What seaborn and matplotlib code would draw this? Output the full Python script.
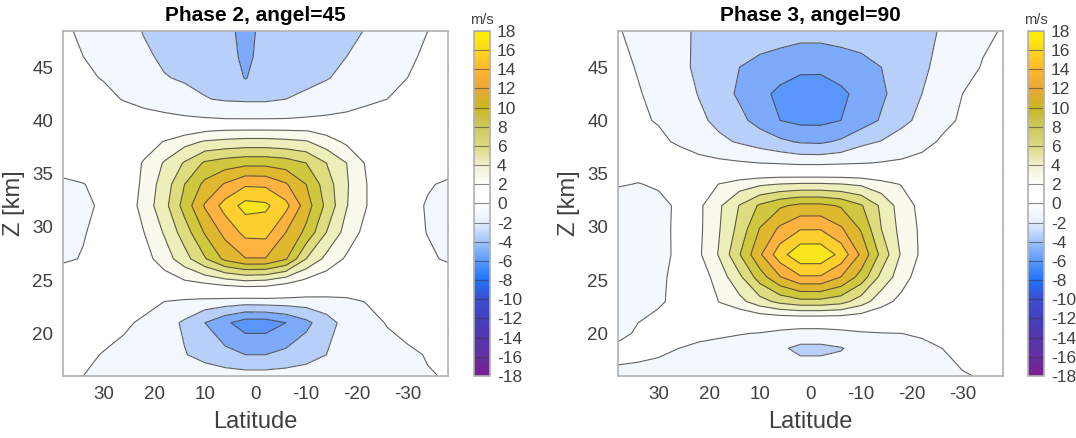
import numpy as np
import matplotlib
matplotlib.use('Agg')
import matplotlib.pyplot as plt
from matplotlib.cm import ScalarMappable
from matplotlib.colors import LinearSegmentedColormap, Normalize
import seaborn as sns

sns.set_style('white')
plt.rcParams['font.family'] = ['Liberation Sans', 'DejaVu Sans']
plt.rcParams['axes.unicode_minus'] = False

# latitude des colonnes
lat = [38, 34, 30, 26, 22, 18, 14, 10, 6, 2, -2, -6, -10, -14, -18, -22, -26, -30, -34, -38]

# altitudes des lignes, une liste par panneau
z_phase2 = [16, 18, 21, 23, 25, 27, 29.5, 32, 34, 36, 38, 39, 40, 42, 44, 46, 48.4]
z_phase3 = [16, 18.6, 20, 21, 23, 25.3, 27.4, 29.8, 32, 34, 36, 38, 40, 42.5, 45, 48.4]

# vitesse (m/s)
u_phase2 = [
    [-1.4, -2, -2.3, -2.5, -2.7, -2.8, -2.9, -3, -3.1, -3.2, -3.2, -3.1, -3, -2.9, -2.8, -2.6, -2.4, -2.2, -2.1, -1.9],
    [-1.2, -1.6, -2.1, -2.5, -2.9, -3.4, -3.9, -4.6, -5.4, -6, -6, -5.5, -4.8, -4, -3.4, -2.9, -2.6, -2.3, -1.9, -1.5],
    [-.4, -.8, -1.2, -1.7, -2.3, -3.2, -4.3, -6, -7.6, -9, -9, -8, -6.5, -4.8, -3.3, -2.6, -1.9, -1.4, -.9, -.5],
    [0, -.2, -.5, -.9, -1.4, -2, -2.4, -2.7, -2.9, -3.1, -3, -3, -3, -2.8, -2.5, -1.9, -1.3, -.8, -.5, -.2],
    [0, .1, .2, .4, .7, 1.1, 2, 2.8, 3.6, 4.2, 4, 3, 1.7, .9, .3, 0, -.2, -.2, -.1, -.1],
    [-2.5, -1.8, -1, -.2, 1.2, 3, 5.2, 7.8, 10.5, 11.9, 11.9, 10.2, 6, 3.4, 1.7, .5, -.3, -.9, -1.5, -2.4],
    [-3, -2.2, -1, .4, 2, 4.2, 7, 10.2, 12.6, 14.6, 14.7, 12, 9.5, 6, 3.2, 1.3, -.1, -1, -2.1, -3],
    [-2.8, -2.5, -1.6, .5, 2.8, 5.3, 8.8, 12.2, 14.8, 16.7, 16.4, 14.6, 11, 7.5, 4.1, 2, .3, -.8, -2.3, -2.9],
    [-2.7, -2.1, -1.1, 0, 2.6, 4.9, 8, 10.5, 12.2, 13.7, 13.6, 12.2, 10, 7, 4.2, 2, .2, -.9, -1.7, -2.5],
    [-.4, -.3, -.1, .6, 2.2, 4.2, 6.2, 8.3, 9, 9.4, 9.4, 9, 8, 6, 4, 1.7, .4, -.1, -.3, -.4],
    [-.1, -.1, 0, .3, 1, 2.1, 3.3, 4.2, 4.5, 4.7, 4.7, 4.5, 4.2, 2.9, 1.6, .6, .2, 0, -.1, -.1],
    [-.2, -.2, -.1, 0, .2, .6, 1.2, 1.9, 2.3, 2.4, 2.4, 2.3, 2.1, 1.4, .7, .2, 0, -.1, -.2, -.2],
    [-.3, -.5, -.7, -.9, -1.2, -1.4, -1.6, -1.7, -1.8, -1.8, -1.8, -1.8, -1.7, -1.6, -1.4, -1.1, -.8, -.6, -.4, -.3],
    [-.9, -1.1, -1.5, -2.1, -2.6, -3, -3.4, -3.9, -4.2, -4.3, -4.3, -4, -3.6, -3.2, -2.9, -2.4, -2, -1.6, -1.2, -.9],
    [-1.4, -1.7, -2.1, -2.7, -3.3, -3.9, -4.2, -4.5, -4.8, -6.1, -5, -4.8, -4.5, -4.1, -3.6, -3.1, -2.5, -2, -1.6, -1.3],
    [-1.7, -2, -2.4, -3, -3.7, -4.3, -4.6, -4.9, -5.1, -6.5, -5.2, -5.1, -4.9, -4.7, -4, -3.4, -2.9, -2.2, -1.8, -1.6],
    [-1.8, -2.2, -2.6, -3.3, -4.1, -4.5, -4.8, -5.1, -5.3, -6.7, -5.3, -5.2, -5, -4.8, -4.4, -3.9, -3.2, -2.5, -2, -1.8],
]

u_phase3 = [
    [-2.2, -2.3, -2.4, -2.5, -2.6, -2.7, -2.8, -3, -3.1, -3.2, -3.2, -3.1, -3, -2.9, -2.7, -2.5, -2.3, -2.1, -1.9, -1.7],
    [-1.7, -1.7, -1.8, -2, -2.3, -2.6, -2.9, -3.2, -3.8, -4.3, -4.3, -4.1, -3.4, -3, -2.7, -2.4, -2, -1.6, -1.2, -1],
    [-2.4, -1.8, -1.5, -1.5, -1.6, -1.7, -1.9, -2.1, -2.7, -3.2, -3.2, -2.8, -2.3, -2.1, -2, -1.8, -1.5, -1.3, -1.1, -.9],
    [-3, -2, -1.4, -1, -.8, -.6, -.5, -.4, -.4, -.5, -.5, -.4, -.3, -.2, -.2, -.2, -.2, -.2, -.2, -.2],
    [-3.3, -2.9, -2.3, -1.4, -.3, 2.1, 3.4, 5.2, 6.6, 7.4, 7.4, 6.8, 5, 2.8, 1.4, .6, .2, -.1, -.2, -.3],
    [-3.2, -3, -2.5, -1.3, .9, 2.9, 5.6, 9, 11.9, 13.8, 13.8, 12, 9.2, 5.4, 2.9, .9, .3, 0, -.2, -.3],
    [-3.6, -3.4, -2.8, -1.5, 1.7, 4.2, 7.9, 11.7, 15.2, 17.5, 17.5, 15.4, 11.6, 7.4, 3.7, 1.6, .4, -.1, -.3, -.4],
    [-3.7, -3.4, -2.9, -1.4, 1.6, 3.9, 6.7, 10.1, 12.4, 13.9, 13.9, 12.3, 9.8, 6, 3.3, 1.6, .4, -.1, -.3, -.4],
    [-3.4, -3.1, -2.7, -1.6, 1.6, 3.7, 6.1, 8.3, 9.7, 10.5, 10.5, 9.8, 8.2, 5.6, 3, 1.4, .3, -.2, -.3, -.4],
    [-1.8, -2.1, -1.7, -.8, .4, 2.1, 3, 3.7, 4.1, 4.3, 4.3, 4.1, 3.7, 2.8, 1.9, .7, .1, -.2, -.4, -.5],
    [-.7, -.8, -.9, -1.2, -1.4, -1.6, -1.8, -2, -2.2, -2.5, -2.5, -2.3, -2.1, -1.9, -1.7, -1.5, -1.1, -.9, -.7, -.6],
    [-1.1, -1.3, -1.7, -2.2, -2.9, -3.6, -4.2, -4.9, -5.6, -6.2, -6.3, -5.7, -4.5, -3.9, -3.3, -2.5, -1.8, -1.4, -1.1, -.9],
    [-1.5, -1.8, -2.1, -2.8, -3.6, -4.5, -5.5, -6.7, -8, -8.5, -8.5, -8, -7, -5.8, -4.4, -3.6, -2.4, -1.8, -1.5, -1.2],
    [-1.7, -1.9, -2.4, -3.1, -4.1, -5.2, -6.3, -7.4, -8.5, -9.5, -9.6, -8.4, -7.4, -6.3, -5.2, -4, -3.1, -2, -1.6, -1.3],
    [-1.6, -2.1, -2.9, -3.6, -4.3, -5, -6, -6.6, -7, -7.4, -7.4, -7.1, -6.7, -6, -5.1, -4.3, -3.5, -2.6, -1.9, -1.5],
    [-1.9, -2.4, -3, -3.7, -4.2, -4.5, -4.7, -4.9, -5.1, -5.3, -5.3, -5.1, -4.9, -4.7, -4.5, -4.3, -3.9, -3, -2.3, -1.9],
]

titres = ['Phase 2, angel=45', 'Phase 3, angel=90']
niveaux = list(range(-18, 20, 2))
lat_ticks = [30, 20, 10, 0, -10, -20, -30]
z_ticks = [20, 25, 30, 35, 40, 45]

# une couleur par intervalle, de -18 a 18
couleurs_bandes = ['#7a2390', '#6030a0', '#4b3ab5', '#3a48c8', '#5a96fb', '#7eaafb', '#b8d0f9', '#f3f8ff', '#ffffff',
                   '#ffffff', '#f9f9ee', '#eeeebb', '#dfdc80', '#cfc83f', '#e0b830', '#ffb23f', '#ffcf2e', '#f9e51c']
# degrade de la barre de couleur, valeurs aux niveaux
couleurs_barre = ['#7a1f8f', '#63309f', '#5236ad', '#4440bd', '#3a4fd0', '#1f72f8', '#5a9afc', '#a0c4fc', '#e8f0ff',
                  '#ffffff', '#ffffff', '#f0f0d0', '#dcd880', '#cec860', '#c8b820', '#e8a838', '#ffb52e', '#ffd520', '#fff200']
cmap_barre = LinearSegmentedColormap.from_list('barre', sns.blend_palette(couleurs_barre, n_colors=19))

gris = '#404040'
cadre = '#b0b0b0'
W, H = 1076, 438
fig = plt.figure(figsize=(W/100, H/100), dpi=100)

positions = [(63, 474), (618, 1028)]
for donnees, z, titre, (x0, xc) in zip([u_phase2, u_phase3], [z_phase2, z_phase3], titres, positions):
    ax = fig.add_axes([x0/W, 1-376/H, 385/W, 345/H])
    ax.contourf(lat, z, donnees, levels=niveaux, colors=couleurs_bandes)
    lignes = [n for n in niveaux if n != 0]
    ax.contour(lat, z, donnees, levels=lignes, colors='#3a3a3a', linewidths=0.8, linestyles='solid', alpha=0.8)
    ax.set_xlim(38, -38)
    ax.set_ylim(16, 48.4)
    ax.set_xticks(lat_ticks)
    ax.set_yticks(z_ticks)
    ax.tick_params(direction='in', top=True, right=True, bottom=True, left=True, length=3.5, width=0.8,
                   color=cadre, labelsize=13.5, labelcolor=gris, pad=7)
    for s in ax.spines.values():
        s.set_color(cadre)
        s.set_linewidth(1.2)
    ax.set_xlabel('Latitude', fontsize=17, color=gris, labelpad=6)
    ax.set_ylabel('Z [km]', fontsize=17, color=gris, labelpad=5)
    ax.set_title(titre, fontsize=15, fontweight='bold', color='black', pad=7)

    cax = fig.add_axes([xc/W, 1-376/H, 16/W, 345/H])
    sm = ScalarMappable(norm=Normalize(-18, 18), cmap=cmap_barre)
    cb = fig.colorbar(sm, cax=cax, ticks=niveaux)
    cb.outline.set_edgecolor(cadre)
    cb.outline.set_linewidth(1.2)
    cax.hlines(niveaux, -18, 18, colors='#3a3a3a', linewidth=0.8, alpha=0.6)
    cax.tick_params(length=0, labelsize=12.5, labelcolor=gris, pad=5)
    cax.text(0.5, 1.012, 'm/s', transform=cax.transAxes, ha='center', va='bottom', fontsize=10.5, color=gris)

fig.savefig('out.png', dpi=100)
